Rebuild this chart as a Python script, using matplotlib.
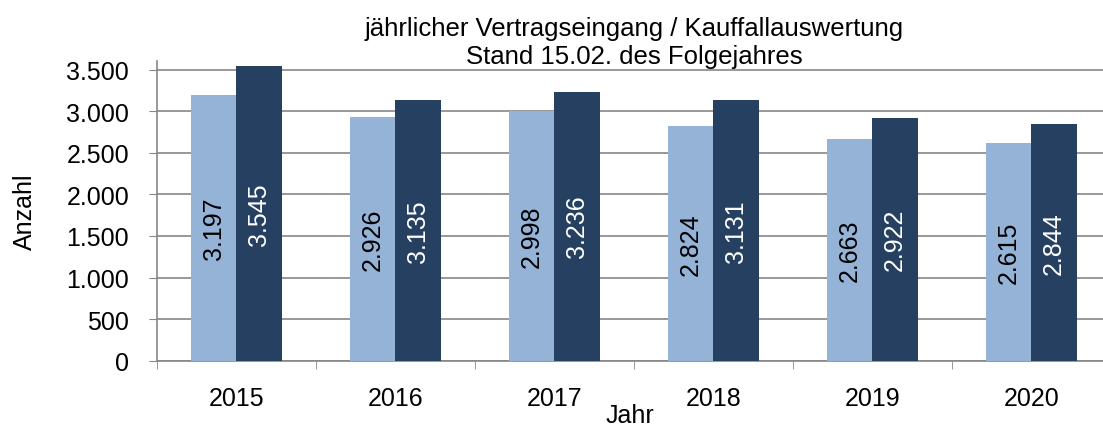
import matplotlib
matplotlib.use("Agg")
import matplotlib.pyplot as plt
import numpy as np
from matplotlib.ticker import FuncFormatter, FixedLocator

years = ["2015", "2016", "2017", "2018", "2019", "2020"]
vertragseingang = [3197, 2926, 2998, 2824, 2663, 2615]
kauffaelle = [3545, 3135, 3236, 3131, 2922, 2844]

plt.rcParams['font.family'] = ['Liberation Sans', 'DejaVu Sans']

fig = plt.figure(figsize=(11.03, 4.27), dpi=100)
ax = fig.add_axes([0.1423, 0.153, 0.8577, 0.702])

x = np.arange(len(years))
w = 0.285
light = "#95B3D7"
dark = "#254061"
b1 = ax.bar(x - w/2, vertragseingang, w, color=light, zorder=3)
b2 = ax.bar(x + w/2, kauffaelle, w, color=dark, zorder=3)

fmt = lambda v: f"{v:,}".replace(",", ".")
fs = 18
for rect, v in zip(b1, vertragseingang):
    ax.text(rect.get_x() + rect.get_width()/2, v/2, fmt(v), rotation=90,
            ha="center", va="center", fontsize=fs, color="black", zorder=4)
for rect, v in zip(b2, kauffaelle):
    ax.text(rect.get_x() + rect.get_width()/2, v/2, fmt(v), rotation=90,
            ha="center", va="center", fontsize=fs, color="white", zorder=4)

ax.set_ylim(0, 3605)
ax.set_yticks(np.arange(0, 3501, 500))
ax.yaxis.set_major_formatter(FuncFormatter(lambda v, p: fmt(int(v))))
ax.set_xlim(-0.5, 5.45)
ax.set_xticks(x)
ax.set_xticklabels(years)
ax.xaxis.set_minor_locator(FixedLocator(np.arange(-0.5, 6, 1.0)))
ax.tick_params(axis="x", which="major", length=0, labelsize=fs, pad=18)
ax.tick_params(axis="x", which="minor", length=6, color="#868686", direction="out")
ax.tick_params(axis="y", length=6, color="#868686", labelsize=fs, pad=14)

ax.grid(axis="y", color="#868686", linewidth=1.2, zorder=0)
for s in ["top", "right"]:
    ax.spines[s].set_visible(False)
for s in ["left", "bottom"]:
    ax.spines[s].set_color("#868686")
    ax.spines[s].set_linewidth(1.2)

ax.set_ylabel("Anzahl", fontsize=fs, labelpad=21)
ax.set_xlabel("Jahr", fontsize=fs, labelpad=-5)
fig.text(0.575, 0.96, "jährlicher Vertragseingang / Kauffallauswertung\nStand 15.02. des Folgejahres",
         ha="center", va="top", fontsize=18.5, linespacing=1.2)

fig.savefig("out.png", dpi=100)
